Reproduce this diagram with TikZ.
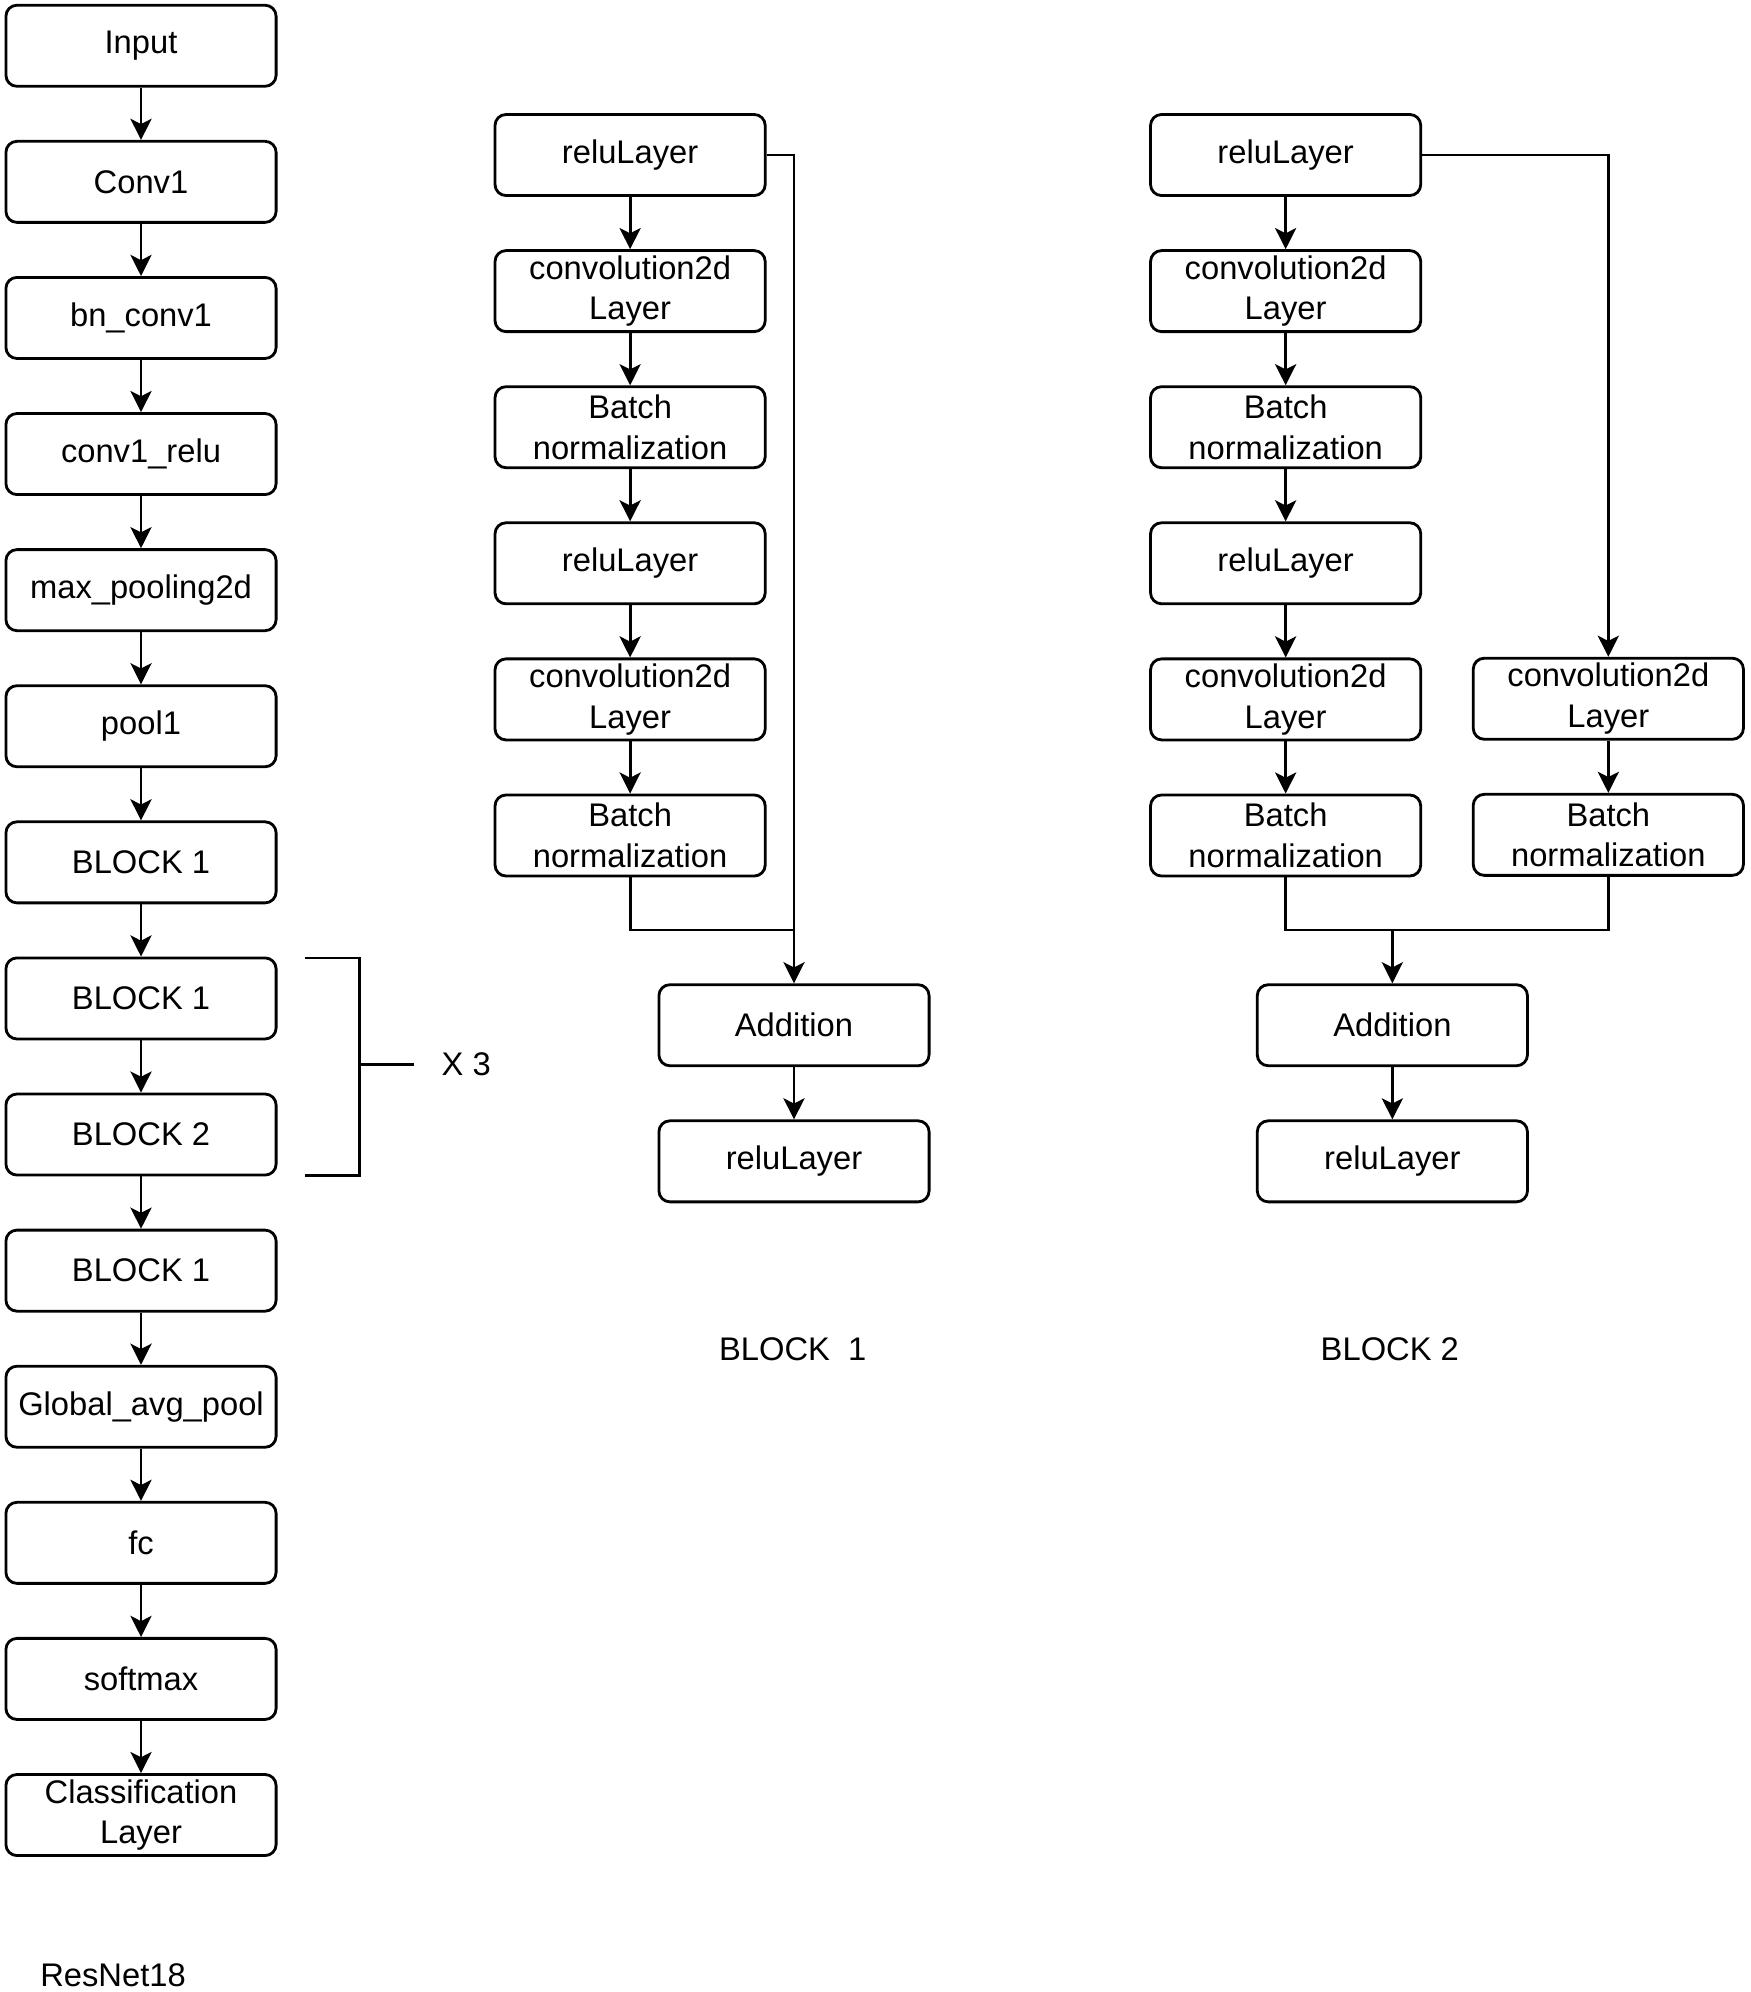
\documentclass[tikz,border=0pt]{standalone}
\usepackage{fontspec}
\setmainfont{Liberation Sans}
\usetikzlibrary{positioning}
\usetikzlibrary{arrows.meta}
\tikzstyle{layer} = [rectangle, draw, rounded corners=1.1mm, align=center,
    minimum width=2.7cm, minimum height=0.81cm, inner sep=0pt,
    font=\fontsize{9.3}{11.5}\selectfont]
\tikzstyle{lbl} = [font=\fontsize{9.3}{11.5}\selectfont]

\begin{document}
\begin{tikzpicture}[x=0.0127cm,y=-0.0127cm,->,>={Stealth[length=6pt,width=6pt,inset=1.5pt]},
                    line width=0.8pt,node distance=1.36cm]
  \useasboundingbox (0,0) rectangle (1378,1568);

  % ResNet18 column
  \node[layer]                (in)   at (111,36) {Input};
  \node[layer, below of=in]   (conv) {Conv1};
  \node[layer, below of=conv] (bn)   {bn\_conv1};
  \node[layer, below of=bn]   (relu) {conv1\_relu};
  \node[layer, below of=relu] (maxp) {max\_pooling2d};
  \node[layer, below of=maxp] (pool) {pool1};
  \node[layer, below of=pool] (blka) {BLOCK 1};
  \node[layer, below of=blka] (blkb) {BLOCK 1};
  \node[layer, below of=blkb] (blkc) {BLOCK 2};
  \node[layer, below of=blkc] (blkd) {BLOCK 1};
  \node[layer, below of=blkd] (gap)  {Global\_avg\_pool};
  \node[layer, below of=gap]  (fc)   {fc};
  \node[layer, below of=fc]   (soft) {softmax};
  \node[layer, below of=soft] (cls)  {Classification\\Layer};
  \node[lbl] (resnet) at (89,1555) {ResNet18};

  \foreach \a/\b in {in/conv,conv/bn,bn/relu,relu/maxp,maxp/pool,pool/blka,
                     blka/blkb,blkb/blkc,blkc/blkd,blkd/gap,gap/fc,fc/soft,soft/cls}
    \draw (\a) -- (\b);

  % repeat bracket
  \draw[-] (240,754) -- (283,754) -- (283,925) -- (240,925);
  \draw[-] (283,838) -- (326,838);
  \node[lbl] (times) at (367,838) {X 3};

  % BLOCK 1
  \node[layer]              (a1) at (496,122) {reluLayer};
  \node[layer, below of=a1] (a2) {convolution2d\\Layer};
  \node[layer, below of=a2] (a3) {Batch\\normalization};
  \node[layer, below of=a3] (a4) {reluLayer};
  \node[layer, below of=a4] (a5) {convolution2d\\Layer};
  \node[layer, below of=a5] (a6) {Batch\\normalization};
  \node[layer]                (add1) at (625,807) {Addition};
  \node[layer, below of=add1] (out1) {reluLayer};
  \node[lbl] (name1) at (624,1062) {BLOCK \ 1};
  \coordinate (m1) at (625,732);

  \foreach \a/\b in {a1/a2,a2/a3,a3/a4,a4/a5,a5/a6,add1/out1}
    \draw (\a) -- (\b);
  \draw (a1.east) -| (add1.north);
  \draw[-] (a6.south) |- (m1);

  % BLOCK 2
  \node[layer]              (c1) at (1012,122) {reluLayer};
  \node[layer, below of=c1] (c2) {convolution2d\\Layer};
  \node[layer, below of=c2] (c3) {Batch\\normalization};
  \node[layer, below of=c3] (c4) {reluLayer};
  \node[layer, below of=c4] (c5) {convolution2d\\Layer};
  \node[layer, below of=c5] (c6) {Batch\\normalization};
  \node[layer]              (d1) at (1266,550) {convolution2d\\Layer};
  \node[layer, below of=d1] (d2) {Batch\\normalization};
  \node[layer]                (add2) at (1096,807) {Addition};
  \node[layer, below of=add2] (out2) {reluLayer};
  \node[lbl] (name2) at (1094,1062) {BLOCK 2};
  \coordinate (m2) at (1096,732);

  \foreach \a/\b in {c1/c2,c2/c3,c3/c4,c4/c5,c5/c6,d1/d2,add2/out2}
    \draw (\a) -- (\b);
  \draw (c1.east) -| (d1.north);
  \draw[-] (c6.south) |- (m2) -| (d2.south);
  \draw (m2) -- (add2.north);
\end{tikzpicture}
\end{document}
